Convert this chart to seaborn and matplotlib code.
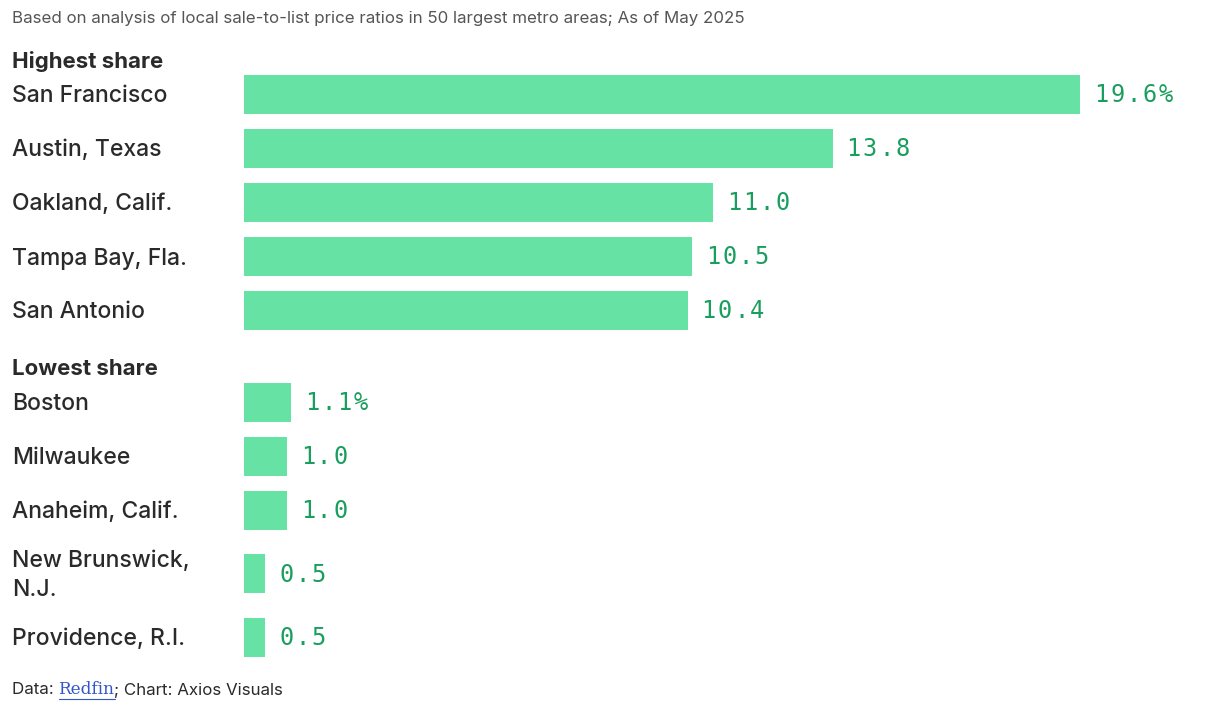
import pandas as pd
import matplotlib.pyplot as plt
import seaborn as sns

#Data (share of homes sold above list, %)
high_cities=["San Francisco","Austin, Texas","Oakland, Calif.","Tampa Bay, Fla.","San Antonio"]
high_values=[19.6,13.8,11.0,10.5,10.4]
high_labels=["19.6%","13.8","11.0","10.5","10.4"]

low_cities=["Boston","Milwaukee","Anaheim, Calif.","New Brunswick,\nN.J.","Providence, R.I."]
low_values=[1.1,1.0,1.0,0.5,0.5]
low_labels=["1.1%","1.0","1.0","0.5","0.5"]

groups=[("Highest share",high_cities,high_values,high_labels),
        ("Lowest share",low_cities,low_values,low_labels)]

subtitle="Based on analysis of local sale-to-list price ratios in 50 largest metro areas; As of May 2025"

#Colors and fonts
bar_color="#66E2A4"
value_color="#1A9E5E"
text_color="#2A2A2A"
sans="Inter"

#Layout in figure pixels (y measured from top)
W,H=1214,721
bar_left=244
px_per_unit=(1080-bar_left)/19.6
row_h=54
extra_line=19
bar_h=39

#Work out row centres and header positions
rows=[]
headers=[]
y=30
for title,cities,values,labels in groups:
    y+=30
    headers.append((title,y))
    y+=7.5
    for city,val,lab in zip(cities,values,labels):
        h=row_h+extra_line*city.count("\n")
        rows.append({"city":city,"value":val,"label":lab,"ypos":y+h/2})
        y+=h
df=pd.DataFrame(rows)

sns.set_style("white")
fig=plt.figure(figsize=(W/100,H/100),dpi=100)
ax=fig.add_axes([0,0,1,1])

sns.barplot(data=df,x="value",y="ypos",orient="h",native_scale=True,
            color=bar_color,saturation=1,errorbar=None,linewidth=0,
            width=bar_h/row_h,ax=ax)
ax.set_xlim(-bar_left/px_per_unit,(W-bar_left)/px_per_unit)
ax.set_ylim(H,0)
ax.axis("off")

#City labels and headers
for _,r in df.iterrows():
    ax.annotate(r["city"],(12,r["ypos"]+2),xycoords=("figure pixels","data"),
                ha="left",va="center",fontsize=16.5,family=sans,fontweight=500,color=text_color,
                linespacing=1.4)
for title,hy in headers:
    ax.annotate(title,(12,hy+1.5),xycoords=("figure pixels","data"),
                ha="left",va="center",fontsize=16,family=sans,fontweight="bold",color=text_color)

#Value labels, drawn char by char to get the wide mono spacing
step=16.2
for _,r in df.iterrows():
    for i,ch in enumerate(r["label"]):
        ax.annotate(ch,(r["value"],r["ypos"]+1),xytext=((14+i*step)*0.72,0),textcoords="offset points",
                    ha="left",va="center",fontsize=17,family="DejaVu Sans Mono",fontweight=500,color=value_color)

#Subtitle
fig.text(12/W,1-18/H,subtitle,ha="left",va="center",fontsize=12.2,family=sans,color="#555555")

#Footer with underlined link
fig.canvas.draw()
renderer=fig.canvas.get_renderer()
x=12
fy=1-690/H
for txt,fam,col,fs in [("Data: ",sans,text_color,12.2),("Redfin","DejaVu Serif","#3355CC",12.2),("; Chart: Axios Visuals",sans,text_color,12.2)]:
    t=fig.text(x/W,fy,txt,ha="left",va="center",fontsize=fs,family=fam,color=col)
    bb=t.get_window_extent(renderer)
    if txt=="Redfin":
        ax.plot([bb.x0/W,bb.x1/W],[fy-9/H,fy-9/H],transform=fig.transFigure,color=col,lw=0.8)
    x=bb.x1

plt.savefig("out.png",dpi=100)
